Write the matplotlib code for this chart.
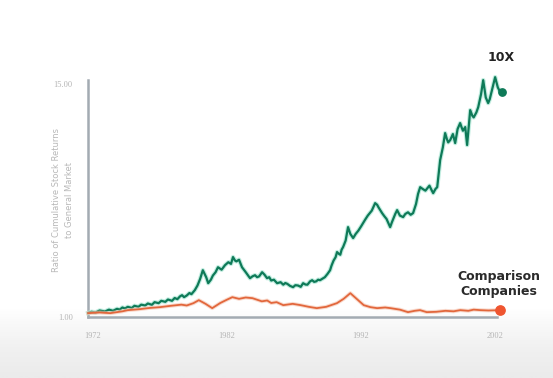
import numpy as np
import matplotlib
matplotlib.use("Agg")
import matplotlib.pyplot as plt
import matplotlib.patheffects as pe

# ---- data (year, ratio) ----
tenx_years = [1971.65, 1971.9, 1972.2, 1972.5, 1972.9, 1973.2, 1973.5, 1973.8, 1974.0, 1974.2,
              1974.4, 1974.6, 1974.9, 1975.1, 1975.4, 1975.6, 1975.9, 1976.1, 1976.4, 1976.6,
              1976.9, 1977.1, 1977.4, 1977.6, 1977.9, 1978.1, 1978.3, 1978.5, 1978.65, 1978.8,
              1979.0, 1979.2, 1979.35, 1979.6, 1979.8, 1980.0, 1980.2, 1980.45, 1980.6, 1980.8,
              1980.95, 1981.15, 1981.33, 1981.6, 1981.85, 1982.1, 1982.3, 1982.45, 1982.6, 1982.7,
              1982.9, 1983.12, 1983.4, 1983.72, 1983.9, 1984.09, 1984.25, 1984.4, 1984.62, 1984.8,
              1984.99, 1985.15, 1985.3, 1985.5, 1985.74, 1986.0, 1986.2, 1986.35, 1986.5, 1986.7,
              1986.93, 1987.1, 1987.3, 1987.5, 1987.68, 1987.85, 1988.0, 1988.2, 1988.35, 1988.5,
              1988.65, 1988.8, 1988.94, 1989.1, 1989.3, 1989.5, 1989.69, 1989.8, 1989.95, 1990.1,
              1990.21, 1990.35, 1990.45, 1990.55, 1990.66, 1990.85, 1991.03, 1991.2, 1991.41, 1991.6,
              1991.8, 1992.0, 1992.15, 1992.3, 1992.5, 1992.65, 1992.8, 1993.05, 1993.2, 1993.3,
              1993.57, 1993.75, 1993.9, 1994.17, 1994.3, 1994.4, 1994.55, 1994.69, 1994.9, 1995.14,
              1995.3, 1995.5, 1995.7, 1995.88, 1996.1, 1996.25, 1996.41, 1996.6, 1996.8, 1996.95,
              1997.1, 1997.25, 1997.38, 1997.55, 1997.68, 1997.9, 1998.1, 1998.27, 1998.4, 1998.5,
              1998.65, 1998.85, 1999.02, 1999.2, 1999.39, 1999.5, 1999.6, 1999.77, 1999.91, 2000.14,
              2000.3, 2000.4, 2000.6, 2000.74, 2000.95, 2001.11, 2001.3, 2001.48, 2001.6, 2001.75,
              2002.0, 2002.2, 2002.38, 2002.53]
tenx_vals = [1.25, 1.32, 1.28, 1.40, 1.34, 1.45, 1.38, 1.50, 1.45, 1.58,
             1.52, 1.62, 1.55, 1.68, 1.62, 1.75, 1.70, 1.82, 1.74, 1.90,
             1.84, 1.98, 1.92, 2.06, 1.98, 2.15, 2.08, 2.25, 2.32, 2.20,
             2.30, 2.45, 2.38, 2.62, 2.90, 3.30, 3.82, 3.40, 3.04, 3.25,
             3.50, 3.70, 4.00, 3.85, 4.12, 4.30, 4.20, 4.61, 4.40, 4.35,
             4.45, 4.00, 3.70, 3.34, 3.45, 3.52, 3.40, 3.45, 3.70, 3.55,
             3.34, 3.40, 3.20, 3.25, 3.04, 3.10, 2.95, 3.05, 3.00, 2.88,
             2.80, 2.92, 2.90, 2.82, 3.04, 2.96, 2.95, 3.15, 3.22, 3.12,
             3.15, 3.25, 3.22, 3.30, 3.40, 3.60, 3.82, 4.10, 4.40, 4.60,
             4.91, 4.80, 4.75, 5.05, 5.21, 5.60, 6.41, 6.00, 5.75, 6.00,
             6.20, 6.45, 6.65, 6.85, 7.10, 7.25, 7.40, 7.85, 7.75, 7.60,
             7.25, 7.05, 6.90, 6.41, 6.70, 6.90, 7.20, 7.43, 7.10, 7.01,
             7.20, 7.30, 7.15, 7.25, 7.80, 8.40, 8.81, 8.70, 8.60, 8.75,
             8.90, 8.65, 8.45, 8.70, 8.81, 10.44, 11.20, 12.06, 11.70, 11.50,
             11.64, 12.00, 11.46, 12.30, 12.66, 12.40, 12.20, 12.42, 11.34, 13.44,
             13.10, 13.00, 13.30, 13.62, 14.40, 15.24, 14.20, 13.86, 14.10, 14.60,
             15.42, 14.80, 14.52, 14.52]

comp_years = [1971.65, 1972.5, 1973.3, 1974.2, 1974.6, 1975.5, 1976.2, 1977.0, 1977.8, 1978.6,
              1979.0, 1979.5, 1979.9, 1980.4, 1980.9, 1981.5, 1982.0, 1982.4, 1982.9, 1983.4,
              1983.9, 1984.6, 1985.0, 1985.3, 1985.7, 1986.2, 1986.9, 1987.5, 1988.1, 1988.7,
              1989.4, 1990.2, 1990.7, 1991.2, 1991.6, 1992.2, 1992.7, 1993.2, 1993.8, 1994.2,
              1994.9, 1995.5, 1996.0, 1996.4, 1996.9, 1997.6, 1998.3, 1998.9, 1999.4, 2000.0,
              2000.4, 2000.9, 2001.5, 2002.38]
comp_vals = [1.24, 1.28, 1.24, 1.35, 1.42, 1.48, 1.55, 1.60, 1.68, 1.75,
             1.70, 1.84, 2.02, 1.80, 1.54, 1.85, 2.05, 2.20, 2.10, 2.18,
             2.14, 1.95, 2.00, 1.85, 1.90, 1.72, 1.80, 1.72, 1.62, 1.54,
             1.62, 1.84, 2.10, 2.44, 2.15, 1.72, 1.60, 1.54, 1.58, 1.54,
             1.45, 1.30, 1.38, 1.42, 1.30, 1.32, 1.38, 1.35, 1.42, 1.38,
             1.45, 1.42, 1.40, 1.42]

x_ticks = [1972, 1982, 1992, 2002]
y_ticks = [1.0, 15.0]

GREEN = "#0e7a58"
ORANGE = "#e2673c"
GREY = "#a3abb2"

fig = plt.figure(figsize=(5.53, 3.78), dpi=100)

# light grey fade at the bottom like the screenshot
bg = fig.add_axes([0, 0, 1, 1], zorder=-5)
grad = np.linspace(0, 1, 300).reshape(-1, 1)
fade = matplotlib.colors.LinearSegmentedColormap.from_list(
    "fade", [(0.0, "#ebebeb"), (0.08, "#f1f1f1"), (0.14, "#f9f9f9"), (0.18, "#ffffff"), (1.0, "#ffffff")])
bg.imshow(grad, extent=[0, 1, 0, 1], aspect="auto", origin="lower", cmap=fade)
bg.axis("off")

ax = fig.add_axes([0.159, 0.161, 0.74, 0.627])
ax.patch.set_alpha(0)

ax.plot(tenx_years, tenx_vals, color=GREEN, lw=1.6, clip_on=False, zorder=3,
        path_effects=[pe.Stroke(linewidth=3.2, foreground="#a8e6d4", alpha=0.7), pe.Normal()])
ax.plot(comp_years, comp_vals, color=ORANGE, lw=1.3, clip_on=False, zorder=3,
        path_effects=[pe.Stroke(linewidth=2.8, foreground="#f6c2ad", alpha=0.6), pe.Normal()])
ax.scatter([tenx_years[-1]], [tenx_vals[-1]], s=28, color=GREEN, zorder=4, clip_on=False)
ax.scatter([comp_years[-1]], [comp_vals[-1]], s=45, color="#ef5530", zorder=4, clip_on=False)

ax.set_xlim(1971.63, 2002.15)
ax.set_ylim(1.0, 15.24)
ax.set_xticks(x_ticks)
ax.set_xticklabels([str(y) for y in x_ticks])
ax.set_yticks(y_ticks)
ax.set_yticklabels(["%.2f" % v for v in y_ticks])
ax.tick_params(length=0, labelsize=6, labelcolor="#b4b4b4")
ax.tick_params(axis="y", pad=11)
ax.tick_params(axis="x", pad=11)
for lab in ax.get_xticklabels() + ax.get_yticklabels():
    lab.set_family("Liberation Serif")

for s in ["top", "right"]:
    ax.spines[s].set_visible(False)
for s in ["left", "bottom"]:
    ax.spines[s].set_color(GREY)
    ax.spines[s].set_linewidth(1.8)

fig.text(0.114, 0.47, "Ratio of Cumulative Stock Returns\nto General Market",
         rotation=90, ha="center", va="center", fontsize=6, color="#b8b8b8",
         linespacing=1.5)

fig.text(0.907, 0.849, "10X", ha="center", va="center", fontsize=9,
         fontweight="bold", color="#222222")
fig.text(0.902, 0.249, "Comparison\nCompanies", ha="center", va="center", fontsize=9,
         fontweight="bold", color="#2a2a2a", linespacing=1.25)

fig.savefig("out.png", dpi=100)
